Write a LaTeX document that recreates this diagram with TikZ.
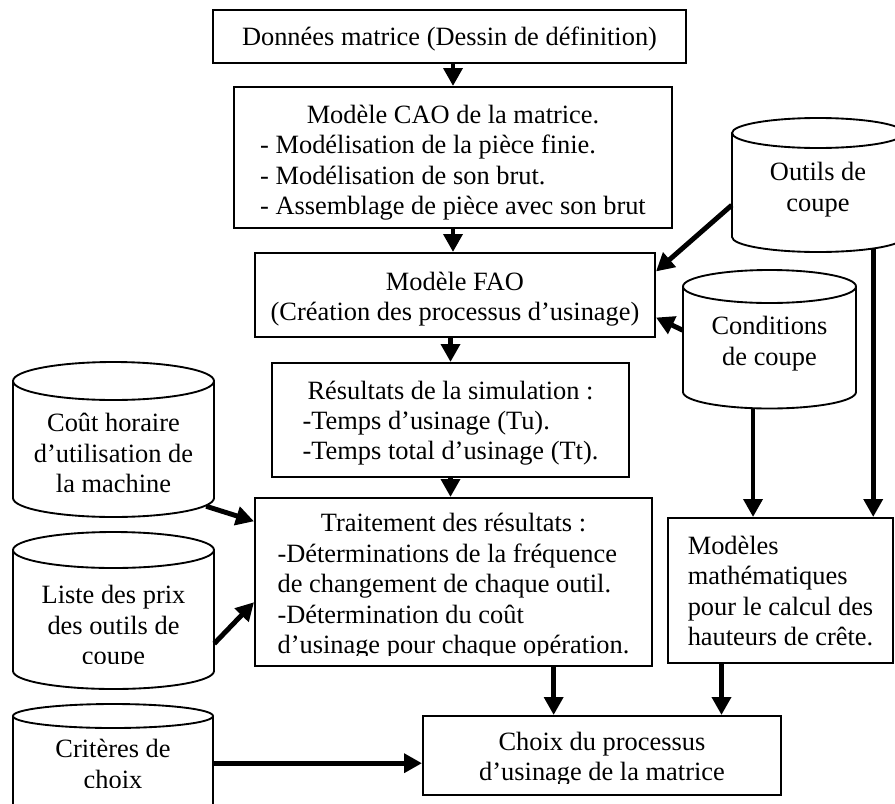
\documentclass[tikz,border=0pt]{standalone}
\usepackage{fontspec}
\setmainfont{Liberation Serif}
\usetikzlibrary{arrows.meta,fit,calc}
\newcommand\diagfont{\fontsize{19.8pt}{22.8pt}\selectfont}
\newcommand\drawcyl[6]{% name, xl, xr, ytop, ysides, ry
  \node[hid, fit={(#2,#4)({#3},{#5+#6})}] (#1) {};
  \draw[cylshape] ({(#2+#3)/2},{#4+#6}) ellipse [x radius={(#3-#2)/2}, y radius=#6];
  \draw[cylshape] (#2,{#4+#6}) -- (#2,#5) arc[start angle=180, end angle=0, x radius={(#3-#2)/2}, y radius=#6] -- (#3,{#4+#6});
}
\begin{document}
\begin{tikzpicture}[x=0.75pt,y=-0.75pt,
  box/.style={draw, line width=1.5pt, inner sep=0pt},
  cylshape/.style={draw, line width=1.4pt},
  hid/.style={inner sep=0pt},
  txt/.style={inner sep=0pt, align=center, font=\diagfont},
  arr/.style={line width=3.7pt, -{Triangle[length=13.5pt,width=14pt]}},
]
\useasboundingbox (0,0) rectangle (895,803);

% ---------- process boxes ----------
\node[box, fit={(213,10)(686,63)}] (b1) {};
\node[txt] (t1) at ([yshift=-2pt]b1.center) {Données matrice (Dessin de définition)};

\node[box, fit={(234,87)(672,228)}] (b2) {};
\node[txt] (t2) at ([yshift=-4pt]b2.center) {\begin{tabular}{@{}l@{}}\multicolumn{1}{@{}c@{}}{Modèle CAO de la matrice.}\\- Modélisation de la pièce finie.\\- Modélisation de son brut.\\- Assemblage de pièce avec son brut\end{tabular}};

\node[box, fit={(255,253)(655,337)}] (b3) {};
\node[txt] (t3) at ([yshift=-3.5pt]b3.center) {\begin{tabular}{@{}c@{}}Modèle FAO\\(Création des processus d’usinage)\end{tabular}};

\node[box, fit={(272,363)(629,477)}] (b4) {};
\node[txt] (t4) at ([yshift=-2.5pt]b4.center) {\begin{tabular}{@{}l@{}}\multicolumn{1}{@{}c@{}}{Résultats de la simulation :}\\-Temps d’usinage (Tu).\\-Temps total d’usinage (Tt).\end{tabular}};

\node[box, fit={(255,498)(652,666)}] (b5) {};
\begin{scope}
\clip (0,0) rectangle (895,655);
\node[txt] (t5) at ([yshift=-3.5pt]b5.center) {\begin{tabular}{@{}l@{}}\multicolumn{1}{@{}c@{}}{Traitement des résultats :}\\-Déterminations de la fréquence\\de changement de chaque outil.\\-Détermination du coût\\d’usinage pour chaque opération.\end{tabular}};
\end{scope}

\node[box, fit={(668,518)(893,663)}] (b6) {};
\node[txt] (t6) at ([yshift=-2.5pt]b6.center) {\begin{tabular}{@{}l@{}}Modèles\\mathématiques\\pour le calcul des\\hauteurs de crête.\end{tabular}};

\node[box, fit={(423,716)(781,795)}] (b7) {};
\begin{scope}
\clip (0,0) rectangle (895,783);
\node[txt] (t7) at ([yshift=-3pt]b7.center) {\begin{tabular}{@{}c@{}}Choix du processus\\d’usinage de la matrice\end{tabular}};
\end{scope}

% ---------- data stores ----------
\drawcyl{outils}{732}{904}{118}{237}{15}
\node[txt] (to) at (818,190) {\begin{tabular}{@{}c@{}}Outils de\\coupe\end{tabular}};

\drawcyl{cond}{683}{856}{270}{392}{16.5}
\node[txt] (tc) at (769.5,344) {\begin{tabular}{@{}c@{}}Conditions\\de coupe\end{tabular}};

\drawcyl{cout}{13}{214}{362}{498}{19}
\node[txt] (tco) at (113.5,456) {\begin{tabular}{@{}c@{}}Coût horaire\\d’utilisation de\\la machine\end{tabular}};

\drawcyl{liste}{13}{214}{532}{671}{18}
\begin{scope}
\clip (0,0) rectangle (895,663);
\node[txt] (tl) at (113.5,628) {\begin{tabular}{@{}c@{}}Liste des prix\\des outils de\\coupe\end{tabular}};
\end{scope}

\drawcyl{crit}{13}{213}{704}{812}{12}
\begin{scope}
\clip (0,0) rectangle (895,787);
\node[txt] (tcr) at (113,767) {\begin{tabular}{@{}c@{}}Critères de\\choix\end{tabular}};
\end{scope}

% ---------- connectors ----------
\draw[arr] (b2.north |- b1.south) -- (b2.north);
\draw[arr] (b2.south) -- (b2.south |- b3.north);
\draw[arr] (b4.north |- b3.south) -- (b4.north);
\draw[arr] (b4.south) -- (b4.south |- b5.north);

\draw[arr] ($(outils.north west)!0.65!(outils.south west)$) -- ($(b3.north east)!0.226!(b3.south east)$);
\draw[arr] ($(cond.north west)!0.435!(cond.south west)$) -- ($(b3.north east)!0.762!(b3.south east)$);

\draw[arr] ($(outils.south west)!0.82!(outils.south east)+(0,-3.5)$) coordinate (o7) -- (o7 |- b6.north);
\draw[arr] ($(cond.south west)!0.405!(cond.south east)$) coordinate (c8) -- (c8 |- b6.north);

\draw[arr] ($(cout.south west)!0.96!(cout.south east)+(0,-11)$) -- ($(b5.north west)!0.143!(b5.south west)$);
\draw[arr] ($(liste.north east)!0.71!(liste.south east)$) -- ($(b5.north west)!0.619!(b5.south west)$);

\coordinate (e11) at ($(b7.north west)!0.595!(b7.south west)$);
\draw[arr] (crit.east |- e11) -- (e11);

\draw[arr] ($(b5.south west)!0.751!(b5.south east)$) coordinate (s12) -- (s12 |- b7.north);
\draw[arr] ($(b6.south west)!0.24!(b6.south east)$) coordinate (s13) -- (s13 |- b7.north);
\end{tikzpicture}
\end{document}
